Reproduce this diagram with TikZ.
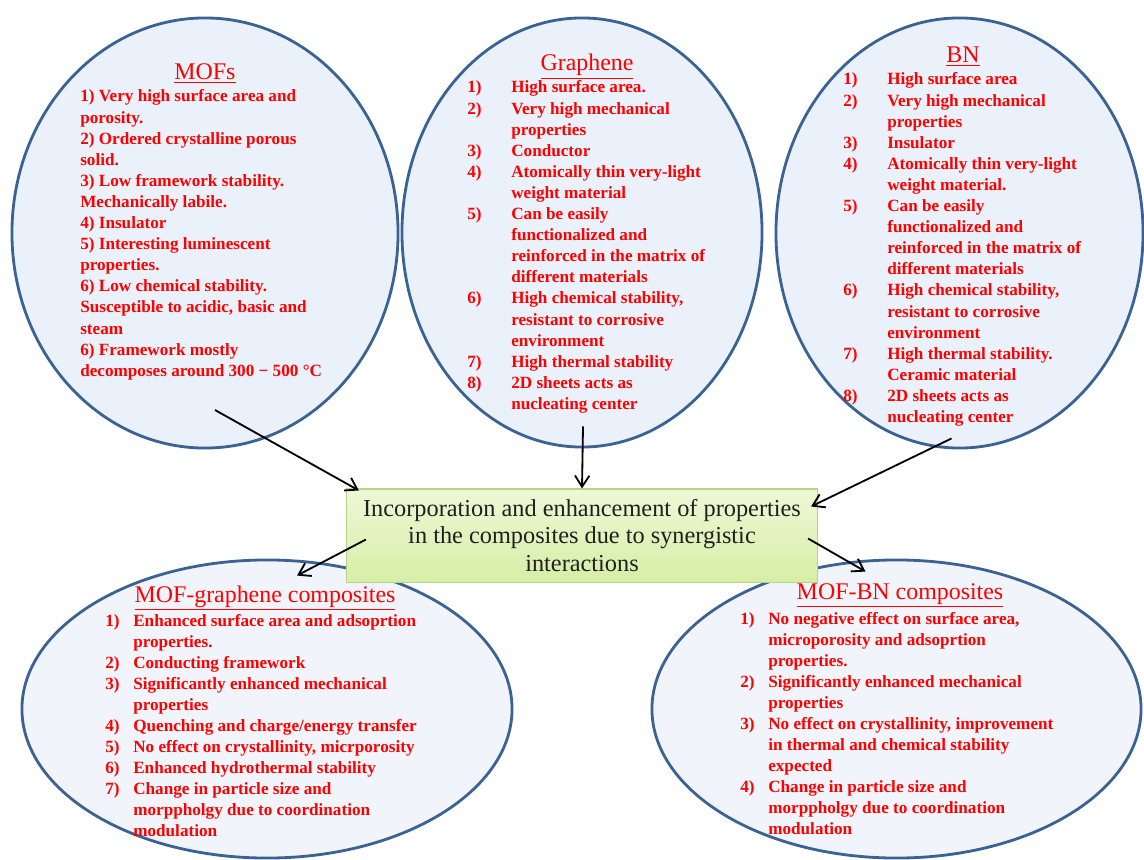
\documentclass[tikz,border=0pt]{standalone}
\usepackage{fontspec}
\setmainfont{Liberation Serif}
\usepackage{xcolor}
\usetikzlibrary{shapes,arrows.meta,positioning}

\definecolor{rimblue}{HTML}{3A6393}
\definecolor{paleblue}{HTML}{EAF1FA}
\definecolor{paleblue2}{HTML}{F1F5FB}
\definecolor{boxtop}{HTML}{EEF8D6}
\definecolor{boxbot}{HTML}{D6EEA6}
\definecolor{boxrim}{HTML}{B2D58A}
\definecolor{boxtext}{HTML}{202020}

\begin{document}
\begin{tikzpicture}[x=0.025cm, y=-0.025cm,
        blob/.style={ellipse, draw=rimblue, line width=2pt, fill=paleblue, inner sep=0pt},
        lowblob/.style={blob, fill=paleblue2},
        heading/.style={anchor=base, inner sep=0pt, text=red, font=\fontsize{17}{20}\selectfont},
        items/.style={anchor=base west, inner sep=0pt, text=red, font=\bfseries\fontsize{12.2}{15}\selectfont},
        synbox/.style={rectangle, draw=boxrim, line width=0.8pt, top color=boxtop, bottom color=boxbot, minimum width=11.775cm, minimum height=2.325cm, align=center, text=boxtext, font=\fontsize{17.3}{19.5}\selectfont},
        link/.style={-{Straight Barb[length=2.8mm,width=3.6mm]}, line width=1.3pt},
      ]
      \useasboundingbox (0,0) rectangle (1144,860);
      % the five materials
      \node [blob, minimum width=9.65cm, minimum height=10.75cm] (mofs) at (205,233) {};
      \node [blob, minimum width=9cm, minimum height=10.725cm] (graphene) at (582,232.5) {};
      \node [blob, minimum width=9.175cm, minimum height=10.75cm] (bn) at (959.5,233) {};
      \node [lowblob, minimum width=12.25cm, minimum height=7.45cm] (mofgr) at (267,709) {};
      \node [lowblob, minimum width=12.225cm, minimum height=7.45cm] (mofbn) at (896.5,709) {};
      \node [synbox, below=1.0cm of graphene] (synergy) {Incorporation and enhancement of properties\\in the composites due to synergistic\\interactions};
      % headings
      \node [heading] (mofshead) at (205,80) {\underline{MOFs}};
      \node [heading] (graphenehead) at (587,71) {\underline{Graphene}};
      \node [heading] (bnhead) at (963,63) {\underline{BN}};
      \node [heading] (mofgrhead) at (265,602) {\underline{MOF-graphene composites}};
      \node [heading] (mofbnhead) at (900,599) {\underline{MOF-BN composites}};
      % property lists
      \node [items] (mofslist) at (80,102) {\begin{tabular}[t]{@{}l@{}}
          1) Very high surface area and\\
          porosity.\\
          2) Ordered crystalline porous\\
          solid.\\
          3) Low framework stability.\\
          Mechanically labile.\\
          4) Insulator\\
          5) Interesting luminescent\\
          properties.\\
          6) Low chemical stability.\\
          Susceptible to acidic, basic and\\
          steam\\
          6) Framework mostly\\
          decomposes around 300 − 500 °C
        \end{tabular}};
      \node [items] (graphenelist) at (467,93) {\begin{tabular}[t]{@{}p{1.1cm}@{}l@{}}
          1) & High surface area.\\
          2) & Very high mechanical\\
             & properties\\
          3) & Conductor\\
          4) & Atomically thin very-light\\
             & weight material\\
          5) & Can be easily\\
             & functionalized and\\
             & reinforced in the matrix of\\
             & different materials\\
          6) & High chemical stability,\\
             & resistant to corrosive\\
             & environment\\
          7) & High thermal stability\\
          8) & 2D sheets acts as\\
             & nucleating center
        \end{tabular}};
      \node [items] (bnlist) at (843,85) {\begin{tabular}[t]{@{}p{1.1cm}@{}l@{}}
          1) & High surface area\\
          2) & Very high mechanical\\
             & properties\\
          3) & Insulator\\
          4) & Atomically thin very-light\\
             & weight material.\\
          5) & Can be easily\\
             & functionalized and\\
             & reinforced in the matrix of\\
             & different materials\\
          6) & High chemical stability,\\
             & resistant to corrosive\\
             & environment\\
          7) & High thermal stability.\\
             & Ceramic material\\
          8) & 2D sheets acts as\\
             & nucleating center
        \end{tabular}};
      \node [items] (mofgrlist) at (105,626) {\begin{tabular}[t]{@{}p{0.7cm}@{}l@{}}
          1) & Enhanced surface area and adsoprtion\\
             & properties.\\
          2) & Conducting framework\\
          3) & Significantly enhanced mechanical\\
             & properties\\
          4) & Quenching and charge/energy transfer\\
          5) & No effect on crystallinity, micrporosity\\
          6) & Enhanced hydrothermal stability\\
          7) & Change in particle size and\\
             & morppholgy due to coordination\\
             & modulation
        \end{tabular}};
      \node [items] (mofbnlist) at (740,624) {\begin{tabular}[t]{@{}p{0.7cm}@{}l@{}}
          1) & No negative effect on surface area,\\
             & microporosity and adsoprtion\\
             & properties.\\
          2) & Significantly enhanced mechanical\\
             & properties\\
          3) & No effect on crystallinity, improvement\\
             & in thermal and chemical stability\\
             & expected\\
          4) & Change in particle size and\\
             & morppholgy due to coordination\\
             & modulation
        \end{tabular}};
      % arrows
      \draw [link] ([shift={(10,177)}]mofs.center) -- ([shift={(13,2)}]synergy.north west);
      \draw [link] ([shift={(1,-22)}]graphene.south) -- (synergy.north);
      \draw [link] ([shift={(-8,-11)}]bn.south) -- ([shift={(-7,18)}]synergy.north east);
      \draw [link] ([shift={(20,4)}]synergy.west) -- ([shift={(30,17)}]mofgr.north);
      \draw [link] ([shift={(-10,3)}]synergy.east) -- ([shift={(-31,13)}]mofbn.north);
    \end{tikzpicture}
\end{document}
